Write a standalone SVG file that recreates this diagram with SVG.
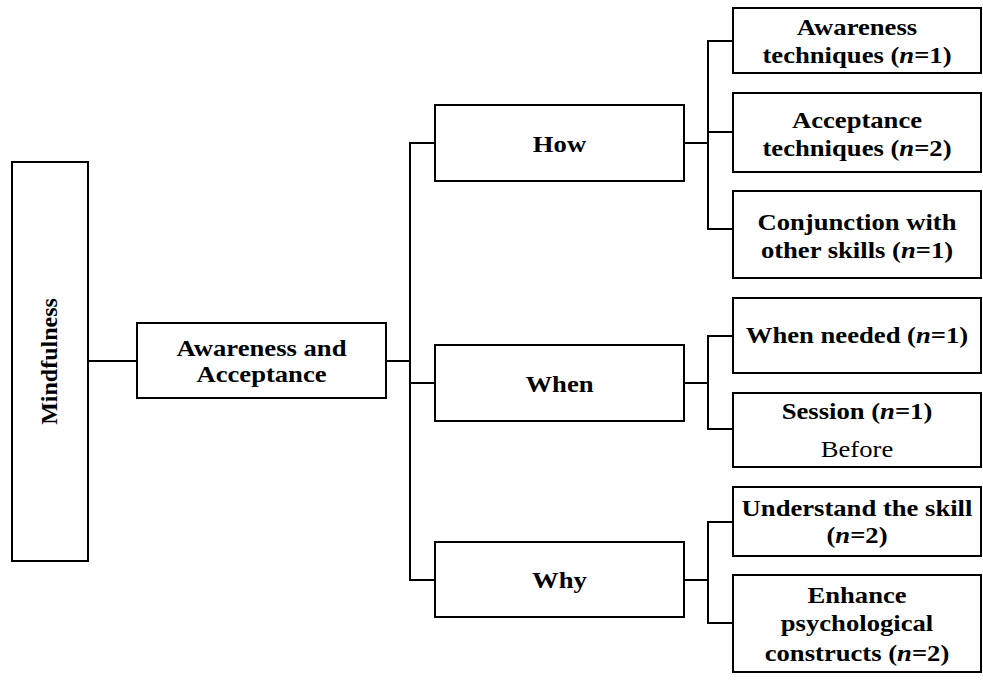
<svg xmlns="http://www.w3.org/2000/svg" width="983" height="681" viewBox="0 0 983 681">
  <style>
    .box { fill: #fff; stroke: #000; stroke-width: 2; }
    .conn { fill: none; stroke: #000; stroke-width: 2; }
    text { font-family: "Liberation Serif", "Times New Roman", serif; font-size: 24px; font-weight: bold; fill: #000; text-anchor: middle; }
    .it { font-style: italic; }
    .plain { font-weight: normal; }
  </style>
  <rect width="983" height="681" fill="#fff"/>

  <!-- connectors -->
  <g id="connectors">
    <line class="conn" x1="88" y1="361" x2="137" y2="361"/>
    <line class="conn" x1="386" y1="361" x2="410" y2="361"/>
    <path class="conn" d="M435 143 H410 V580 H435"/>
    <line class="conn" x1="410" y1="383" x2="435" y2="383"/>
    <!-- How branch -->
    <line class="conn" x1="684" y1="143" x2="708" y2="143"/>
    <path class="conn" d="M733 41 H708 V229 H733"/>
    <line class="conn" x1="708" y1="132" x2="733" y2="132"/>
    <!-- When branch -->
    <line class="conn" x1="684" y1="383" x2="708" y2="383"/>
    <path class="conn" d="M733 336 H708 V429 H733"/>
    <!-- Why branch -->
    <line class="conn" x1="684" y1="580" x2="708" y2="580"/>
    <path class="conn" d="M733 522 H708 V623 H733"/>
  </g>

  <g id="mindfulness">
    <rect class="box" x="12" y="162" width="76" height="399"/>
    <text transform="translate(57 361.5) rotate(-90)">Mindfulness</text>
  </g>

  <!-- horizontal labels are set slightly wide: scale(1.11 1) -->
  <g id="awareness-acceptance">
    <rect class="box" x="137" y="323" width="249" height="75"/>
    <text transform="translate(261.5 356) scale(1.11 1)">Awareness and</text>
    <text transform="translate(261.5 382) scale(1.11 1)">Acceptance</text>
  </g>

  <g id="how">
    <rect class="box" x="435" y="105" width="249" height="76"/>
    <text transform="translate(559.5 152) scale(1.11 1)">How</text>
  </g>

  <g id="when">
    <rect class="box" x="435" y="345" width="249" height="76"/>
    <text transform="translate(559.5 392) scale(1.11 1)">When</text>
  </g>

  <g id="why">
    <rect class="box" x="435" y="542" width="249" height="75"/>
    <text transform="translate(559.5 588) scale(1.11 1)">Why</text>
  </g>

  <g id="awareness-techniques">
    <rect class="box" x="733" y="8" width="248" height="65"/>
    <text transform="translate(857 35) scale(1.11 1)">Awareness</text>
    <text transform="translate(857 63) scale(1.11 1)">techniques (<tspan class="it">n</tspan>=1)</text>
  </g>

  <g id="acceptance-techniques">
    <rect class="box" x="733" y="93" width="248" height="79"/>
    <text transform="translate(857 128) scale(1.11 1)">Acceptance</text>
    <text transform="translate(857 156) scale(1.11 1)">techniques (<tspan class="it">n</tspan>=2)</text>
  </g>

  <g id="conjunction">
    <rect class="box" x="733" y="191" width="248" height="87"/>
    <text transform="translate(857 230) scale(1.11 1)">Conjunction with</text>
    <text transform="translate(857 258) scale(1.11 1)">other skills (<tspan class="it">n</tspan>=1)</text>
  </g>

  <g id="when-needed">
    <rect class="box" x="733" y="298" width="248" height="75"/>
    <text transform="translate(857 343) scale(1.11 1)">When needed (<tspan class="it">n</tspan>=1)</text>
  </g>

  <g id="session">
    <rect class="box" x="733" y="393" width="248" height="74"/>
    <text transform="translate(857 419) scale(1.11 1)">Session (<tspan class="it">n</tspan>=1)</text>
    <text class="plain" transform="translate(857 457) scale(1.11 1)">Before</text>
  </g>

  <g id="understand-skill">
    <rect class="box" x="733" y="487" width="248" height="69"/>
    <text transform="translate(857 516) scale(1.11 1)">Understand the skill</text>
    <text transform="translate(857 543) scale(1.11 1)">(<tspan class="it">n</tspan>=2)</text>
  </g>

  <g id="enhance">
    <rect class="box" x="733" y="575" width="248" height="97"/>
    <text transform="translate(857 603) scale(1.11 1)">Enhance</text>
    <text transform="translate(857 631) scale(1.11 1)">psychological</text>
    <text transform="translate(857 661) scale(1.11 1)">constructs (<tspan class="it">n</tspan>=2)</text>
  </g>
</svg>
